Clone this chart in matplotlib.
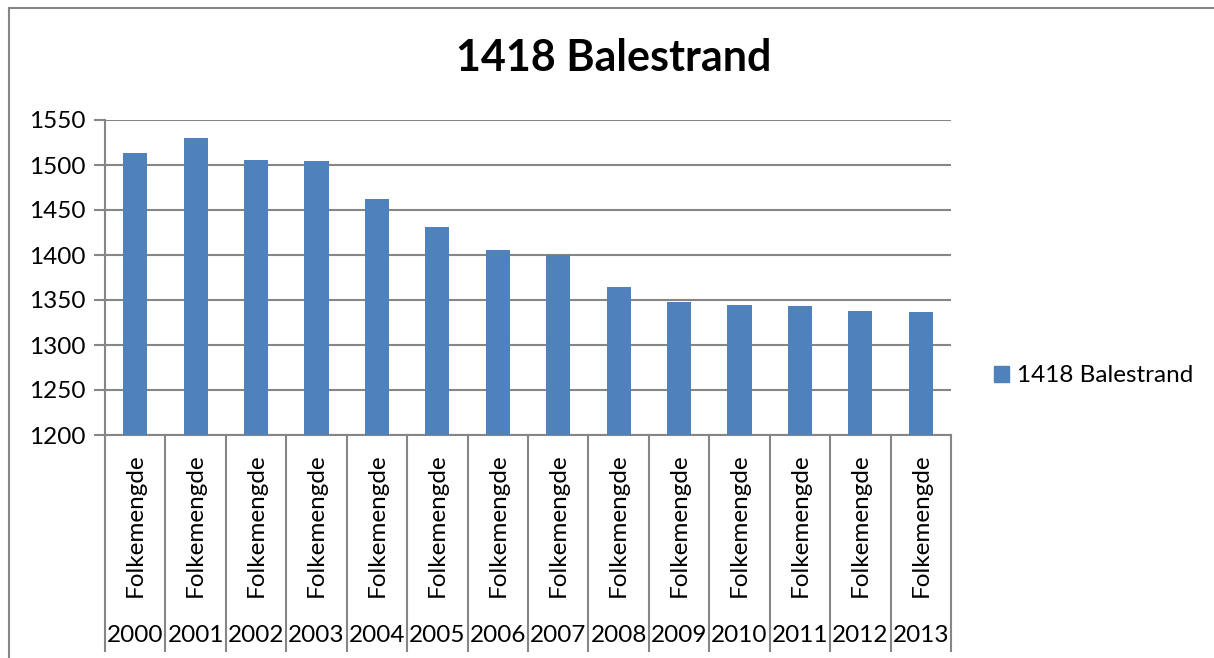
import matplotlib
matplotlib.use('agg')
import matplotlib.pyplot as plt
from matplotlib.lines import Line2D
import numpy as np

years = ['2000', '2001', '2002', '2003', '2004', '2005', '2006',
         '2007', '2008', '2009', '2010', '2011', '2012', '2013']
category = 'Folkemengde'
population = [1513, 1530, 1506, 1505, 1462, 1431, 1406,
              1400, 1365, 1348, 1344, 1343, 1338, 1337]
series_name = '1418 Balestrand'
yticks = [1200, 1250, 1300, 1350, 1400, 1450, 1500, 1550]

plt.rcParams['font.family'] = ['Lato', 'DejaVu Sans']

W, H = 1214, 658
fig = plt.figure(figsize=(W / 100, H / 100), dpi=100)

x0, x1, y_top, y_bot = 105, 951, 120, 435
ax = fig.add_axes([x0 / W, 1 - y_bot / H, (x1 - x0) / W, (y_bot - y_top) / H])

grey = '#868686'
fs = 17.5
x = np.arange(len(years))
ax.bar(x, population, width=0.4, color='#4F81BD', zorder=3, label=series_name)
ax.set_xlim(-0.5, len(years) - 0.5)
ax.set_ylim(1200, 1550)
ax.set_yticks(yticks)
ax.set_yticklabels([str(v) for v in yticks], fontsize=fs)
ax.yaxis.grid(True, color=grey, linewidth=1.5, zorder=0)
ax.set_xticks([])
for side in ['top', 'right']:
    ax.spines[side].set_visible(False)
for side in ['left', 'bottom']:
    ax.spines[side].set_color(grey)
    ax.spines[side].set_linewidth(1.5)
ax.tick_params(axis='y', length=8, width=1.5, color=grey, pad=6)

# two-level category labels below the axis
trans = ax.get_xaxis_transform()
h = y_bot - y_top
for i, yr in enumerate(years):
    ax.text(i, -(525 - y_bot) / h, category, rotation=90,
            ha='center', va='center', fontsize=fs, transform=trans, clip_on=False)
    ax.text(i, -(635 - y_bot) / h, yr, ha='center', va='center',
            fontsize=fs, transform=trans, clip_on=False)
for b in np.arange(len(years) + 1) - 0.5:
    ax.add_line(Line2D([b, b], [0, -(651 - y_bot) / h], transform=trans,
                       color=grey, linewidth=1.5, clip_on=False))

fig.text(614 / W, 1 - 58 / H, series_name, ha='center', va='center',
         fontsize=31, fontweight='bold')

# legend
fig.legend(handles=[plt.Rectangle((0, 0), 1, 1, color='#4F81BD')], labels=[series_name],
           loc='center left', bbox_to_anchor=(994 / W, 1 - 376 / H), frameon=False,
           fontsize=fs, handlelength=0.6, handleheight=0.6, handletextpad=0.35,
           borderpad=0, borderaxespad=0)

# chart border
fig.add_artist(Line2D([8.5 / W, 8.5 / W], [0, 1 - 7.5 / H], transform=fig.transFigure,
                      color=grey, linewidth=1.5))
fig.add_artist(Line2D([8.5 / W, 1], [1 - 7.5 / H, 1 - 7.5 / H], transform=fig.transFigure,
                      color=grey, linewidth=1.5))

fig.savefig('out.png', dpi=100)
